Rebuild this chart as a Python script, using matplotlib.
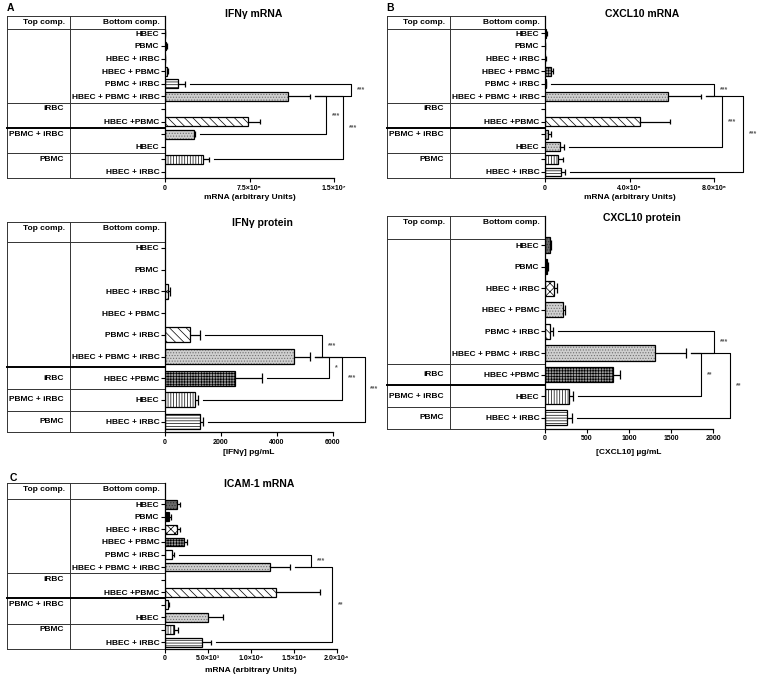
import matplotlib
matplotlib.use("Agg")
import numpy as np
import matplotlib.pyplot as plt
import matplotlib.transforms as mtransforms

plt.rcParams['font.family'] = ['Liberation Sans', 'DejaVu Sans']
plt.rcParams['font.weight'] = 'bold'
plt.rcParams['hatch.linewidth'] = 0.5

# ---- data ----
mrna_bottom = ["HBEC", "PBMC", "HBEC + iRBC", "HBEC + PBMC", "PBMC + iRBC",
               "HBEC + PBMC + iRBC", "", "HBEC +PBMC", "", "HBEC", "", "HBEC + iRBC"]
mrna_top = ["iRBC", "PBMC + iRBC", "PBMC"]
mrna_top_rows = [6, 8, 10]

prot_bottom = ["HBEC", "PBMC", "HBEC + iRBC", "HBEC + PBMC", "PBMC + iRBC",
               "HBEC + PBMC + iRBC", "HBEC +PBMC", "HBEC", "HBEC + iRBC"]
prot_top = ["iRBC", "PBMC + iRBC", "PBMC"]
prot_top_rows = [6, 7, 8]

# IFNg mRNA (arbitrary units)
ifn_mrna = np.array([0.02, 0.09, 0.02, 0.2, 1.18, 10.9, 0, 7.4, 2.6, 0, 3.4, 0]) * 1e6
ifn_mrna_sem = np.array([0.01, 0.06, 0.01, 0.1, 0.6, 2.0, 0, 1.0, 0.06, 0, 0.53, 0]) * 1e6
ifn_mrna_sig = [(4, 5, 16.5e6, "***"), (5, 8, 14.3e6, "***"), (5, 10, 15.8e6, "***")]

# CXCL10 mRNA
cxcl_mrna = np.array([0.05, 0.01, 0.02, 0.27, 0.05, 5.8, 0, 4.5, 0.16, 0.71, 0.63, 0.76]) * 1e6
cxcl_mrna_sem = np.array([0.03, 0.01, 0.01, 0.12, 0.02, 1.6, 0, 1.42, 0.11, 0.19, 0.24, 0.19]) * 1e6
cxcl_mrna_sig = [(4, 5, 8.0e6, "***"), (5, 9, 8.36e6, "***"), (5, 11, 9.36e6, "***")]

# IFNg protein (pg/mL)
ifn_prot = np.array([0, 0, 90, 0, 900, 4600, 2520, 1060, 1250])
ifn_prot_sem = np.array([0, 0, 80, 0, 350, 600, 940, 130, 120])
ifn_prot_sig = [(4, 5, 5630, "***"), (5, 6, 5880, "*"), (5, 7, 6325, "***"), (5, 8, 7140, "***")]

# CXCL10 protein
cxcl_prot = np.array([65, 25, 105, 210, 60, 1305, 810, 290, 265])
cxcl_prot_sem = np.array([10, 8, 32, 28, 40, 375, 80, 48, 52])
cxcl_prot_sig = [(4, 5, 2012, "***"), (5, 7, 1853, "**"), (5, 8, 2198, "**")]

# ICAM-1 mRNA
icam_mrna = np.array([1350, 500, 1350, 2200, 850, 12200, 0, 12900, 300, 5000, 1000, 4300])
icam_mrna_sem = np.array([450, 150, 400, 400, 200, 2400, 0, 5100, 150, 1800, 500, 1000])
icam_mrna_sig = [(4, 5, 17.0e3, "***"), (5, 11, 19.4e3, "**")]

# ---- styles ----
STYLE = {
    'black': ('black', None, 'black'),
    'white': ('white', None, 'black'),
    'dots': ('#cfcfcf', '......', '#6e6e6e'),
    'diag': ('white', '\\\\\\\\', 'black'),
    'vert': ('white', '||||||', 'black'),
    'horiz': ('white', '------', 'black'),
    'grid': ('#9a9a9a', '++++++', 'black'),
    'check': ('white', 'xxxx', 'black'),
    'dark': ('#6a6a6a', '......', '#303030'),
}

W, H = 759, 680
fig = plt.figure(figsize=(W / 100, H / 100), dpi=100)


def panel(g, title, xlabel, xlabel_y, xticks, xticklabels, bottom, top_labels, top_rows,
          vals, sem, styles, sig, thick):
    n = len(bottom)
    y_bot = g['row0'] + (n - 0.5) * g['sp']
    ax = fig.add_axes([g['x0'] / W, 1 - y_bot / H, (g['x1'] - g['x0']) / W, (y_bot - g['y_top']) / H])
    ry = lambda py: (py - g['row0']) / g['sp']
    xmax = xticks[-1]
    ax.set_ylim(n - 0.5, ry(g['y_top']))
    ax.set_xlim(0, xmax)
    for s in ['top', 'right']:
        ax.spines[s].set_visible(False)
    for s in ['left', 'bottom']:
        ax.spines[s].set_linewidth(0.9)
    rows = np.arange(n)
    ax.set_yticks(rows)
    ax.set_yticklabels(bottom, fontsize=6, fontweight='bold')
    ax.set_xticks(xticks)
    ax.set_xticklabels(xticklabels, fontsize=5, fontweight='bold')
    ax.tick_params(axis='y', length=3, width=0.8, pad=1)
    ax.tick_params(axis='x', length=3, width=0.8, pad=1.5)

    # bars
    for i in rows:
        if vals[i] <= 0:
            continue
        fc, hatch, hc = STYLE[styles[i]]
        ax.barh(i, vals[i], height=0.7, color=fc, hatch=hatch, edgecolor=hc, linewidth=0)
        ax.barh(i, vals[i], height=0.7, fill=False, edgecolor='black', linewidth=0.9)
    m = sem > 0
    ends = vals + sem
    ax.hlines(rows[m], vals[m], ends[m], color='black', lw=0.9)
    ax.vlines(ends[m], rows[m] - 0.22, rows[m] + 0.22, color='black', lw=0.9)

    # significance brackets
    gap = xmax * 5 / (g['x1'] - g['x0'])
    for ra, rb, lvl, lab in sig:
        ax.plot([ends[ra] + gap, lvl, lvl, ends[rb] + gap], [ra, ra, rb, rb],
                color='black', lw=0.8, clip_on=False)
        ax.text(lvl + xmax * 0.035, (ra + rb) / 2, lab, fontsize=5, color='#555555',
                ha='left', va='center', clip_on=False)

    # table on the left
    tr = mtransforms.blended_transform_factory(fig.transFigure, ax.transData)
    y_top = ry(g['y_top'])
    xl, xd, xr = g['x_tab'] / W, g['x_div'] / W, g['x0'] / W
    lk = dict(color='#333333', lw=0.7, transform=tr, clip_on=False)
    ax.plot([xl, xr], [y_top, y_top], **lk)
    ax.plot([xl, xr], [n - 0.5, n - 0.5], **lk)
    ax.plot([xl, xr], [ry(g['y_head'])] * 2, **lk)
    ax.plot([xl, xl], [y_top, n - 0.5], **lk)
    ax.plot([xd, xd], [y_top, n - 0.5], **lk)
    for r in top_rows:
        yy = r - 0.5
        if yy == thick:
            ax.plot([xl, xr], [yy, yy], color='black', lw=1.4, transform=tr, clip_on=False)
        else:
            ax.plot([xl, xr], [yy, yy], **lk)
    if thick not in [r - 0.5 for r in top_rows]:
        ax.plot([xl, xr], [thick, thick], color='black', lw=1.4, transform=tr, clip_on=False)
    hy = ry(g['y_top'] + 6.5)
    ax.text((g['x_tab'] + 58) / W, hy, "Top comp.", transform=tr, fontsize=6,
            ha='right', va='center')
    ax.text((g['x0'] - 5) / W, hy, "Bottom comp.", transform=tr, fontsize=6,
            ha='right', va='center')
    for lab, r in zip(top_labels, top_rows):
        ax.text((g['x_tab'] + 57) / W, r, lab, transform=tr, fontsize=6,
                ha='right', va='center')

    cx = (g['x0'] + g['x1']) / 2
    fig.text(g['title_x'] / W, 1 - g['title_y'] / H, title, fontsize=7.5,
             fontweight='bold', ha='center', va='center')
    fig.text(cx / W, 1 - xlabel_y / H, xlabel, fontsize=6, ha='center', va='center')
    return ax


gA = dict(x_tab=7, x_div=70, x0=165, x1=334, y_top=16, y_head=29, row0=33.4, sp=12.6,
          title_x=254, title_y=14)
gB = dict(x_tab=387, x_div=450, x0=545, x1=714, y_top=16, y_head=29, row0=33.4, sp=12.6,
          title_x=642, title_y=14)
gP1 = dict(x_tab=7, x_div=70, x0=165, x1=332.7, y_top=222, y_head=242, row0=248, sp=21.7,
           title_x=262, title_y=223)
gP2 = dict(x_tab=387, x_div=450, x0=545, x1=713.3, y_top=216, y_head=239, row0=245, sp=21.6,
           title_x=642, title_y=218)
gC = dict(x_tab=7, x_div=70, x0=165, x1=336.7, y_top=483, y_head=499, row0=504.3, sp=12.55,
          title_x=259, title_y=484)

panel(gA, "IFNγ mRNA", "mRNA (arbitrary Units)", 197,
      [0, 7.5e6, 1.5e7], ["0", "7.5×10⁶", "1.5×10⁷"],
      mrna_bottom, mrna_top, mrna_top_rows, ifn_mrna, ifn_mrna_sem,
      ['black', 'black', 'black', 'vert', 'horiz', 'dots', 'white', 'diag', 'dots', 'white', 'vert', 'white'],
      ifn_mrna_sig, 7.5)

panel(gB, "CXCL10 mRNA", "mRNA (arbitrary Units)", 197,
      [0, 4.0e6, 8.0e6], ["0", "4.0×10⁶", "8.0×10⁶"],
      mrna_bottom, mrna_top, mrna_top_rows, cxcl_mrna, cxcl_mrna_sem,
      ['black', 'black', 'black', 'grid', 'black', 'dots', 'white', 'diag', 'dots', 'dots', 'vert', 'horiz'],
      cxcl_mrna_sig, 7.5)

panel(gP1, "IFNγ protein", "[IFNγ] pg/mL", 453,
      [0, 2000, 4000, 6000], ["0", "2000", "4000", "6000"],
      prot_bottom, prot_top, prot_top_rows, ifn_prot, ifn_prot_sem,
      ['white', 'white', 'check', 'white', 'diag', 'dots', 'grid', 'vert', 'horiz'],
      ifn_prot_sig, 5.5)

panel(gP2, "CXCL10 protein", "[CXCL10] µg/mL", 452,
      [0, 500, 1000, 1500, 2000], ["0", "500", "1000", "1500", "2000"],
      prot_bottom, prot_top, prot_top_rows, cxcl_prot, cxcl_prot_sem,
      ['dark', 'black', 'check', 'dots', 'diag', 'dots', 'grid', 'vert', 'horiz'],
      cxcl_prot_sig, 6.5)

panel(gC, "ICAM-1 mRNA", "mRNA (arbitrary Units)", 670,
      [0, 5e3, 1e4, 1.5e4, 2e4],
      ["0", "5.0×10³", "1.0×10⁴", "1.5×10⁴", "2.0×10⁴"],
      mrna_bottom, mrna_top, mrna_top_rows, icam_mrna, icam_mrna_sem,
      ['dark', 'black', 'check', 'grid', 'white', 'dots', 'white', 'diag', 'white', 'dots', 'vert', 'horiz'],
      icam_mrna_sig, 7.5)

fig.text(10 / W, 1 - 8 / H, "A", fontsize=7.5, fontweight='bold', ha='center', va='center')
fig.text(390 / W, 1 - 8 / H, "B", fontsize=7.5, fontweight='bold', ha='center', va='center')
fig.text(13 / W, 1 - 478 / H, "C", fontsize=7.5, fontweight='bold', ha='center', va='center')

fig.savefig("out.png", dpi=100)
